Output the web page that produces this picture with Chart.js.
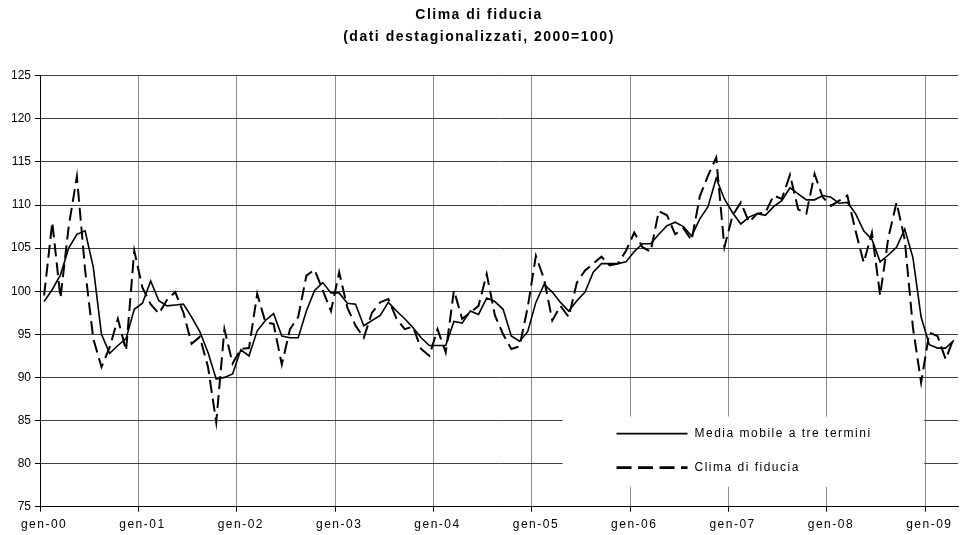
<!DOCTYPE html>
<html>
<head>
<meta charset="utf-8">
<script src="https://cdn.jsdelivr.net/npm/chart.js@4.4.1/dist/chart.umd.min.js"></script>
<style>
  html, body { margin: 0; padding: 0; background: #ffffff; }
  #wrap { width: 960px; height: 535px; }
</style>
</head>
<body>
<div id="wrap"><canvas id="grafico" width="960" height="535"></canvas></div>
<script>
// ---------- DATI ----------
const titolo = ['Clima di fiducia', '(dati destagionalizzati, 2000=100)'];
const mesi = ['gen','feb','mar','apr','mag','giu','lug','ago','set','ott','nov','dic'];
const anni = ['00','01','02','03','04','05','06','07','08','09'];
const etichetteX = ['gen-00','gen-01','gen-02','gen-03','gen-04','gen-05','gen-06','gen-07','gen-08','gen-09'];
const valoriY = [75, 80, 85, 90, 95, 100, 105, 110, 115, 120, 125];
const nomiSerie = ['Media mobile a tre termini', 'Clima di fiducia'];

const clima = [
  99.5, 108.0, 99.2, 107.5, 113.3, 102.5, 94.5, 91.2, 93.5, 96.8, 93.1, 104.7,
  100.4, 98.5, 97.4, 99.0, 99.9, 97.5, 93.9, 94.7, 91.2, 84.8, 95.6, 91.6,
  93.3, 93.4, 99.7, 96.4, 96.2, 91.5, 95.6, 97.0, 101.8, 102.5, 100.1, 97.7,
  102.2, 98.1, 96.0, 94.6, 97.5, 98.7, 99.1, 96.8, 95.6, 95.9, 93.3, 92.5,
  95.6, 92.9, 100.1, 96.8, 97.5, 98.3, 102.0, 97.2, 95.0, 93.3, 93.6, 98.1,
  104.1, 101.4, 96.6, 98.3, 97.0, 101.0, 102.4, 103.2, 104.0, 103.0, 103.2, 104.7,
  106.8, 105.1, 104.6, 109.3, 108.8, 106.6, 107.3, 105.9, 111.0, 113.4, 115.5, 105.1,
  108.8, 110.3, 108.0, 109.0, 109.1, 111.1, 110.7, 113.5, 109.5, 109.0, 113.6, 110.9,
  109.9, 110.5, 111.1, 107.0, 103.3, 106.8, 99.5, 106.2, 110.3, 106.0, 95.8, 89.4,
  95.2, 94.8, 92.1, 94.6
];

const mediaMobile = [
  98.8, 100.2, 101.9, 105.0, 106.6, 107.0, 102.8, 95.0, 92.8, 93.7, 94.5, 97.9,
  98.6, 101.2, 98.9, 98.3, 98.4, 98.5, 97.0, 95.3, 92.9, 89.8, 90.0, 90.4,
  93.2, 92.5, 95.4, 96.6, 97.4, 94.8, 94.6, 94.6, 97.7, 100.1, 101.0, 99.8,
  99.8, 98.6, 98.5, 96.0, 96.6, 97.2, 98.7, 97.7, 96.8, 95.8, 94.6, 93.7,
  93.7, 93.7, 96.5, 96.3, 97.7, 97.3, 99.2, 98.8, 97.9, 94.8, 94.2, 95.3,
  98.7, 100.8, 99.9, 98.7, 97.7, 98.9, 99.9, 102.2, 103.2, 103.2, 103.2, 103.4,
  104.6, 105.5, 105.5, 106.6, 107.6, 108.0, 107.5, 106.4, 108.4, 109.8, 113.1, 110.7,
  109.1, 107.8, 108.6, 109.0, 108.8, 109.8, 110.5, 112.0, 111.3, 110.6, 110.6, 111.1,
  110.9, 110.2, 110.3, 109.0, 107.0, 106.0, 103.4, 104.2, 105.1, 107.2, 103.9, 97.0,
  93.8, 93.4, 93.4, 94.3
];

const categorie = clima.map((_, i) => mesi[i % 12] + '-' + anni[Math.floor(i / 12)]);

// ---------- STILE ----------
const FONT = '"Liberation Sans", Arial, Helvetica, sans-serif';
const hasSpacing = ('letterSpacing' in CanvasRenderingContext2D.prototype);

const spaziatura = {
  id: 'spaziatura',
  beforeDraw(chart) {
    if (hasSpacing) chart.ctx.letterSpacing = '1.5px';
  },
  afterLayout(chart) {
    const y = chart.scales.y;
    if (y && !y.__wrapped && hasSpacing) {
      const orig = y.drawLabels.bind(y);
      y.drawLabels = function (area) {
        const c = this.ctx;
        const prev = c.letterSpacing;
        c.letterSpacing = '0px';
        orig(area);
        c.letterSpacing = prev;
      };
      y.__wrapped = true;
    }
  }
};

const legendaInterna = {
  id: 'legendaInterna',
  afterDatasetsDraw(chart) {
    const { ctx, chartArea, scales } = chart;
    const catW = (chartArea.right - chartArea.left) / categorie.length;
    const left = chartArea.left + 63.75 * catW;
    const right = chartArea.left + 108 * catW - 1;
    const top = scales.y.getPixelForValue(85.45);
    const bottom = scales.y.getPixelForValue(77.3);
    ctx.save();
    ctx.fillStyle = '#ffffff';
    ctx.fillRect(left, top, right - left, bottom - top);
    const ds = chart.data.datasets;
    const rows = [top + 17, top + 51];
    const x0 = left + 54, x1 = left + 125;
    ds.forEach((d, k) => {
      ctx.beginPath();
      ctx.strokeStyle = '#000';
      ctx.lineWidth = k === 0 ? 1.6 : 2.6;
      ctx.setLineDash(k === 0 ? [] : [15, 6.5]);
      ctx.moveTo(x0, rows[k]);
      ctx.lineTo(x1, rows[k]);
      ctx.stroke();
      ctx.setLineDash([]);
      ctx.fillStyle = '#000';
      ctx.font = '12px ' + FONT;
      ctx.textAlign = 'left';
      ctx.textBaseline = 'middle';
      ctx.fillText(d.label, left + 132, rows[k]);
    });
    ctx.restore();
  }
};

new Chart(document.getElementById('grafico').getContext('2d'), {
  type: 'line',
  data: {
    labels: categorie,
    datasets: [
      { label: nomiSerie[0], data: mediaMobile, borderColor: '#000', borderWidth: 1.6,
        pointRadius: 0, tension: 0, fill: false, order: 1 },
      { label: nomiSerie[1], data: clima, borderColor: '#000', borderWidth: 2,
        borderDash: [13, 6], pointRadius: 0, tension: 0, fill: false, order: 0 }
    ]
  },
  options: {
    responsive: false,
    animation: false,
    devicePixelRatio: 1,
    layout: { padding: { left: 0, right: 2, top: 0, bottom: 0 } },
    plugins: {
      legend: { display: false },
      tooltip: { enabled: false },
      title: {
        display: true,
        text: titolo,
        color: '#000',
        font: { family: FONT, size: 14, weight: 'bold', lineHeight: 1.6 },
        padding: { top: 4, bottom: 26.9 }
      }
    },
    scales: {
      x: {
        type: 'category',
        offset: true,
        grid: {
          offset: true,
          drawTicks: true,
          tickLength: 5,
          lineWidth: 1,
          color: c => (c.index % 12 === 0 ? '#8c8c8c' : 'rgba(0,0,0,0)'),
          tickColor: c => (c.index % 12 === 0 ? '#000' : 'rgba(0,0,0,0)')
        },
        border: { color: '#000', width: 1 },
        ticks: {
          autoSkip: false, maxRotation: 0, minRotation: 0, padding: 6,
          color: '#000', font: { family: FONT, size: 12 },
          callback: (v, i) => (i % 12 === 0 ? etichetteX[i / 12] : '')
        },
        afterFit: s => { s.height = 28.3; }
      },
      y: {
        min: 75, max: 125,
        afterBuildTicks: s => { s.ticks = valoriY.map(v => ({ value: v })); },
        ticks: { color: '#000', padding: 4, font: { family: FONT, size: 12 } },
        grid: {
          color: c => (c.tick && c.tick.value === 75 ? '#000' : '#404040'),
          tickColor: '#000', tickLength: 5, lineWidth: 1
        },
        border: { color: '#000', width: 1 },
        afterFit: s => { s.width = 40; }
      }
    }
  },
  plugins: [spaziatura, legendaInterna]
});
</script>
</body>
</html>
